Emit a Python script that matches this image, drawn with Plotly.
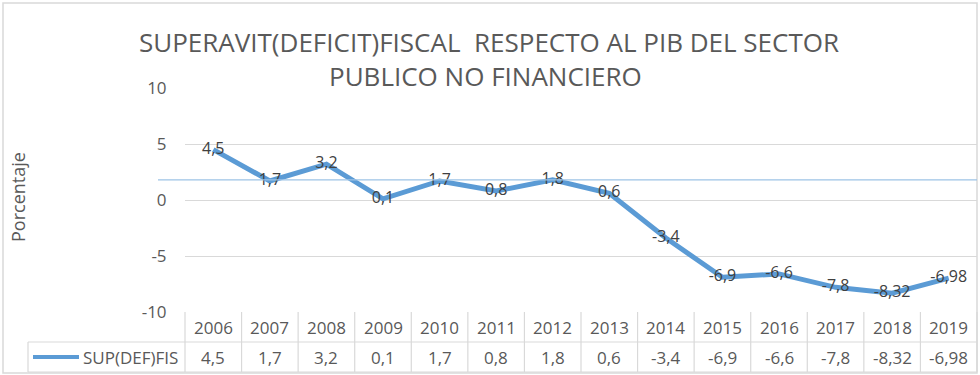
import plotly.graph_objects as go

years = ["2006", "2007", "2008", "2009", "2010", "2011", "2012", "2013",
         "2014", "2015", "2016", "2017", "2018", "2019"]
values = [4.5, 1.7, 3.2, 0.1, 1.7, 0.8, 1.8, 0.6, -3.4, -6.9, -6.6, -7.8, -8.32, -6.98]
series_name = "SUP(DEF)FIS"
ref_level = 1.8
title_lines = ["SUPERAVIT(DEFICIT)FISCAL  RESPECTO AL PIB DEL SECTOR", "PUBLICO NO FINANCIERO"]
y_title = "Porcentaje"

W, H = 980, 375
L, R, T, B = 185, 3, 88, 63
PW, PH = W - L - R, H - T - B

def px(x):
    return (x - L) / PW

def py(y):
    return (H - B - y) / PH

labels = [str(v).replace(".", ",") for v in values]

FONT = "Open Sans"
GRID = "#D9D9D9"
TXT = "#595959"
BLUE = "#5B9BD5"
FS = 17

fig = go.Figure()
fig.add_trace(go.Scatter(
    x=list(range(len(years))), y=values, mode="lines+text",
    line=dict(color=BLUE, width=5),
    text=labels, textposition="middle center",
    textfont=dict(family=FONT, size=16, color="#404040"),
    showlegend=False, cliponaxis=False,
))

shapes = []
# outer border
shapes.append(dict(type="rect", xref="paper", yref="paper",
                   x0=px(3), x1=px(977), y0=py(3), y1=py(373),
                   line=dict(color=GRID, width=1.5)))
# reference light blue line
shapes.append(dict(type="line", xref="paper", yref="y",
                   x0=px(158), x1=px(977), y0=ref_level, y1=ref_level,
                   line=dict(color="#9DC3E6", width=1.2)))
# table horizontal lines
for yy, x0 in [(342, 28), (372, 28)]:
    shapes.append(dict(type="line", xref="paper", yref="paper",
                       x0=px(x0), x1=1, y0=py(yy), y1=py(yy),
                       line=dict(color=GRID, width=1.2)))
# table vertical lines
n = len(years)
for i in range(n + 1):
    xx = i / n
    shapes.append(dict(type="line", xref="paper", yref="paper",
                       x0=xx, x1=xx, y0=py(312), y1=py(372),
                       line=dict(color=GRID, width=1.2)))
shapes.append(dict(type="line", xref="paper", yref="paper",
                   x0=px(28), x1=px(28), y0=py(342), y1=py(372),
                   line=dict(color=GRID, width=1.2)))
# legend key line
shapes.append(dict(type="line", xref="paper", yref="paper",
                   x0=px(33), x1=px(79), y0=py(357), y1=py(357),
                   line=dict(color=BLUE, width=4)))

def ann(x, xref, y, text, size, **kw):
    d = dict(x=x, xref=xref, y=y, yref="paper", text=text, showarrow=False,
             yanchor="middle", font=dict(family=FONT, size=size, color=TXT))
    d.update(kw)
    return d

annotations = []
for i, (yr, lab) in enumerate(zip(years, labels)):
    annotations.append(ann(i, "x", py(327), yr, FS, xanchor="center"))
    annotations.append(ann(i, "x", py(357), lab, FS, xanchor="center"))
annotations.append(ann(px(81), "paper", py(357), series_name, FS, xanchor="left"))
annotations.append(ann(px(18), "paper", py(197), y_title, 18, xanchor="center", textangle=-90))
annotations.append(ann(px(489), "paper", py(42), title_lines[0], 26, xanchor="center"))
annotations.append(ann(px(485), "paper", py(76), title_lines[1], 26, xanchor="center"))

fig.update_layout(
    width=W, height=H,
    margin=dict(l=L, r=R, t=T, b=B, pad=0),
    paper_bgcolor="white", plot_bgcolor="white",
    shapes=shapes, annotations=annotations,
    xaxis=dict(range=[-0.5, n - 0.5], showticklabels=False, showgrid=False,
               zeroline=False, showline=False, fixedrange=True),
    yaxis=dict(range=[-10, 10], tickvals=[-10, -5, 0, 5, 10],
               ticktext=["-10", "-5", "0", "5", "10"],
               showgrid=True, gridcolor=GRID, gridwidth=1.2, zeroline=False,
               showline=False, ticks="outside", ticklen=14, tickcolor="rgba(0,0,0,0)",
               tickfont=dict(family=FONT, size=FS, color=TXT)),
)

fig.write_html("out.html")
